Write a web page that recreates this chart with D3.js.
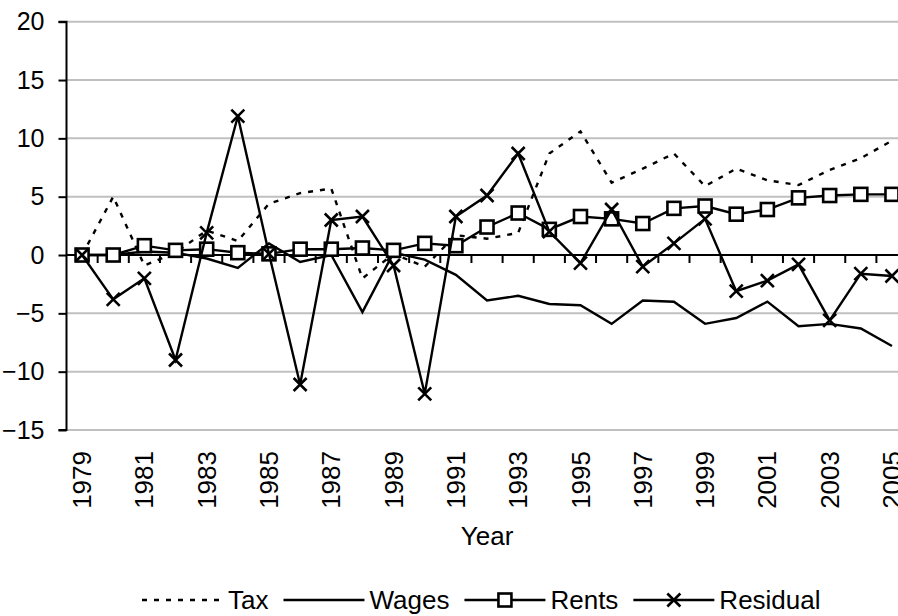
<!DOCTYPE html>
<html>
<head>
<meta charset="utf-8">
<script src="https://cdn.jsdelivr.net/npm/d3@7"></script>
<style>
  body { margin: 0; background: #fff; }
  svg { display: block; font-family: "Liberation Sans", Arial, sans-serif; }
</style>
</head>
<body>
<script>
var years = [1979, 1980, 1981, 1982, 1983, 1984, 1985, 1986, 1987, 1988, 1989, 1990, 1991, 1992,
             1993, 1994, 1995, 1996, 1997, 1998, 1999, 2000, 2001, 2002, 2003, 2004, 2005];
var tax = [0, 5.0, -0.9, 0.2, 2.1, 1.2, 4.4, 5.3, 5.7, -2.0, 0.1, -1.0, 1.7, 1.4,
           1.9, 8.7, 10.6, 6.2, 7.4, 8.7, 5.9, 7.4, 6.4, 6.0, 7.3, 8.3, 9.8];
var wages = [0, 0, 0.3, 0.2, -0.3, -1.1, 1.0, -0.6, 0, -4.9, 0.2, -0.4, -1.7, -3.9,
             -3.5, -4.2, -4.3, -5.9, -3.9, -4.0, -5.9, -5.4, -4.0, -6.1, -5.9, -6.3, -7.8];
var rents = [0, 0, 0.8, 0.4, 0.5, 0.2, 0.1, 0.5, 0.5, 0.6, 0.4, 1.0, 0.8, 2.4,
             3.6, 2.2, 3.3, 3.1, 2.7, 4.0, 4.2, 3.5, 3.9, 4.9, 5.1, 5.2, 5.2];
var residual = [0, -3.8, -2.0, -9.0, 1.9, 11.9, 0.1, -11.1, 3.0, 3.3, -0.9, -11.9, 3.3, 5.1,
                8.7, 2.0, -0.7, 3.9, -1.0, 1.0, 3.1, -3.1, -2.2, -0.8, -5.6, -1.6, -1.8];
var yTicks = [-15, -10, -5, 0, 5, 10, 15, 20];
var yearLabels = [1979, 1981, 1983, 1985, 1987, 1989, 1991, 1993, 1995, 1997, 1999, 2001, 2003, 2005];

var series = [
    {name: "Tax", values: tax, dash: "5,7", marker: null},
    {name: "Wages", values: wages, dash: null, marker: null},
    {name: "Rents", values: rents, dash: null, marker: "square"},
    {name: "Residual", values: residual, dash: null, marker: "cross"}
];

var width = 898, height = 616;
var plotLeft = 66.5, plotTop = 21.7, plotBottom = 430;
var band = 31.15;
var fontSize = 26;
var lineW = 2.4;

var svg = d3.select("body").append("svg")
    .attr("width", width).attr("height", height);

var x = d3.scaleBand()
    .domain(years)
    .range([plotLeft, plotLeft + band * years.length])
    .padding(0);
var cx = function(yr) { return x(yr) + x.bandwidth() / 2; };

var y = d3.scaleLinear()
    .domain([-15, 20])
    .range([plotBottom, plotTop]);

// gridlines
svg.append("g").selectAll("line")
    .data(yTicks.filter(function(t) { return t !== 0; }))
    .enter().append("line")
    .attr("x1", plotLeft).attr("x2", width)
    .attr("y1", function(d) { return y(d); })
    .attr("y2", function(d) { return y(d); })
    .attr("stroke", "#c0c0c0")
    .attr("stroke-width", 2);

// y axis
var axisY = d3.axisLeft(y).tickValues(yTicks).tickSize(8).tickPadding(14);
var gy = svg.append("g")
    .attr("transform", "translate(" + plotLeft + ",0)")
    .call(axisY);
gy.select(".domain").attr("stroke", "#000").attr("stroke-width", 2)
    .attr("d", "M-8," + y(20) + "H0V" + y(-15) + "H-8");
gy.selectAll(".tick line").attr("stroke", "#000").attr("stroke-width", 2);
gy.selectAll(".tick text")
    .attr("font-size", 25)
    .attr("font-family", "Liberation Sans, Arial, sans-serif")
    .attr("fill", "#000");

// zero line with category ticks
var gx = svg.append("g");
gx.append("line")
    .attr("x1", plotLeft).attr("x2", width)
    .attr("y1", y(0)).attr("y2", y(0))
    .attr("stroke", "#000").attr("stroke-width", 2);
gx.selectAll(".ctick")
    .data(years.slice(1))
    .enter().append("line")
    .attr("class", "ctick")
    .attr("x1", function(d) { return x(d); })
    .attr("x2", function(d) { return x(d); })
    .attr("y1", y(0)).attr("y2", y(0) + 8)
    .attr("stroke", "#000").attr("stroke-width", 2);

// year labels
svg.append("g").selectAll("text")
    .data(yearLabels)
    .enter().append("text")
    .attr("transform", function(d) { return "translate(" + cx(d) + "," + (plotBottom + 21) + ") rotate(-90)"; })
    .attr("text-anchor", "end")
    .attr("dy", "0.35em")
    .attr("font-size", fontSize)
    .text(function(d) { return d; });

svg.append("text")
    .attr("x", (x.range()[0] + x.range()[1]) / 2)
    .attr("y", 545)
    .attr("text-anchor", "middle")
    .attr("font-size", fontSize)
    .text("Year");

// series
var line = d3.line()
    .x(function(d, i) { return cx(years[i]); })
    .y(function(d) { return y(d); });

function drawMarker(g, type, px, py) {
    if (type === "square") {
        g.append("rect")
            .attr("x", px - 6.5).attr("y", py - 6.5)
            .attr("width", 13).attr("height", 13)
            .attr("fill", "#fff").attr("stroke", "#000").attr("stroke-width", 2.6);
    } else if (type === "cross") {
        var s = 6.5;
        g.append("path")
            .attr("d", "M" + (px - s) + "," + (py - s) + "L" + (px + s) + "," + (py + s) +
                       "M" + (px - s) + "," + (py + s) + "L" + (px + s) + "," + (py - s))
            .attr("stroke", "#000").attr("stroke-width", 2.6).attr("fill", "none");
    }
}

series.forEach(function(s) {
    var g = svg.append("g");
    g.append("path")
        .datum(s.values)
        .attr("d", line)
        .attr("fill", "none")
        .attr("stroke", "#000")
        .attr("stroke-width", lineW)
        .attr("stroke-dasharray", s.dash);
    if (s.marker) {
        s.values.forEach(function(v, i) {
            drawMarker(g, s.marker, cx(years[i]), y(v));
        });
    }
});

// legend
var lg = svg.append("g");
var lx = 142, ly = 600;
series.forEach(function(s) {
    lg.append("line")
        .attr("x1", lx).attr("x2", lx + 81)
        .attr("y1", ly).attr("y2", ly)
        .attr("stroke", "#000").attr("stroke-width", lineW)
        .attr("stroke-dasharray", s.dash);
    if (s.marker) drawMarker(lg, s.marker, lx + 40.5, ly);
    var t = lg.append("text")
        .attr("x", lx + 86)
        .attr("y", ly)
        .attr("dy", "0.35em")
        .attr("font-size", fontSize)
        .text(s.name);
    lx = lx + 86 + t.node().getComputedTextLength() + 15;
});
</script>
</body>
</html>
